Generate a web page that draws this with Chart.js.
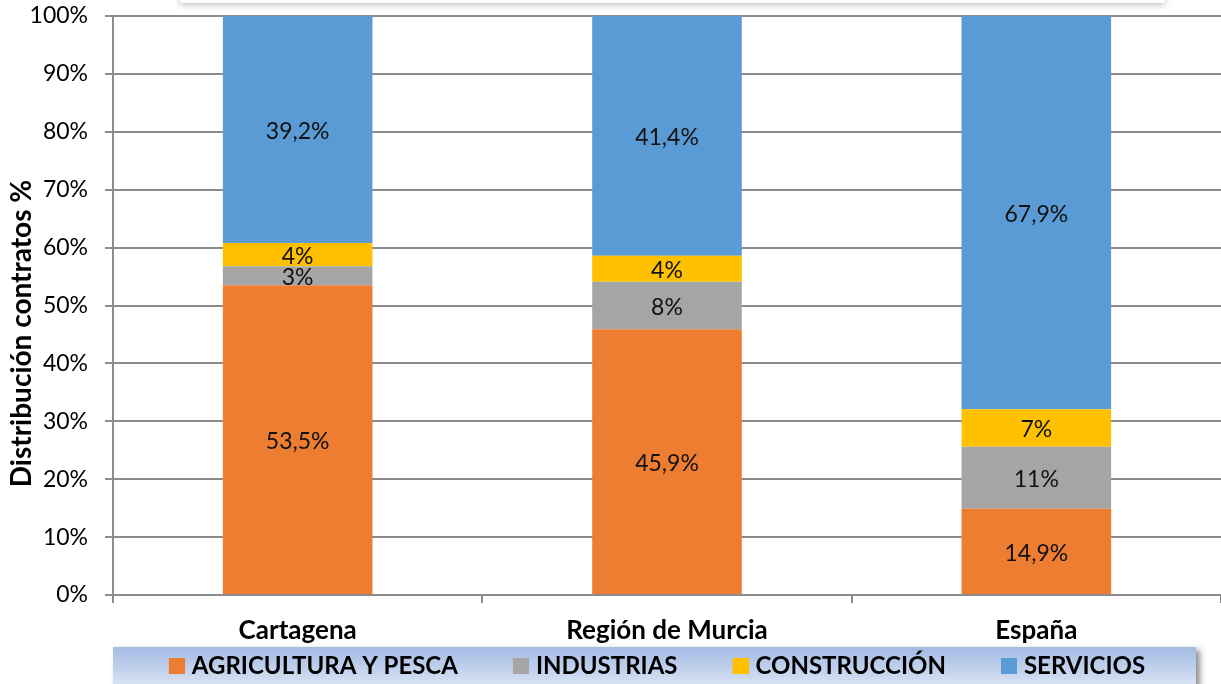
<!DOCTYPE html>
<html>
<head>
<meta charset="utf-8">
<script src="https://cdn.jsdelivr.net/npm/chart.js@4/dist/chart.umd.min.js"></script>
<style>
  html, body { margin: 0; padding: 0; background: #fff; overflow: hidden; }
  #wrap { position: relative; width: 1221px; height: 684px; }
  #titleBox {
    position: absolute; left: 180px; top: -40px; width: 985px; height: 43px;
    background: #fff; box-shadow: 0 2px 6px rgba(0,0,0,0.25); border-radius: 3px;
  }
  canvas { position: absolute; left: 0; top: 0; }
</style>
</head>
<body>
<div id="wrap">
  <canvas id="chart" width="1221" height="684"></canvas>
  <div id="titleBox"></div>
</div>
<script>
// datos
var categorias = ['Cartagena', 'Región de Murcia', 'España'];
var agricultura = [53.5, 45.9, 14.9];
var industrias = [3.3, 8.2, 10.7];
var construccion = [4.0, 4.5, 6.5];
var servicios = [39.2, 41.4, 67.9];

var etiqAgricultura = ['53,5%', '45,9%', '14,9%'];
var etiqIndustrias = ['3%', '8%', '11%'];
var etiqConstruccion = ['4%', '4%', '7%'];
var etiqServicios = ['39,2%', '41,4%', '67,9%'];

var FONT = 'Lato';
var gridColor = '#8c8c8c';
var LEG_BOX = 61;   // ancho reservado para el cuadrado de la leyenda

// cuadrado de la leyenda con hueco transparente a la izquierda
function legendSquare(color) {
  var c = document.createElement('canvas');
  c.width = LEG_BOX + 10;
  c.height = 16;
  var g = c.getContext('2d');
  g.fillStyle = color;
  g.fillRect(c.width - 16, 0, 16, 16);
  return c;
}

// etiquetas dentro de las barras
var barLabels = {
  id: 'barLabels',
  afterDatasetsDraw: function (chart) {
    var ctx = chart.ctx;
    ctx.save();
    ctx.font = '23px ' + FONT;
    ctx.fillStyle = '#111';
    ctx.textAlign = 'center';
    ctx.textBaseline = 'middle';
    chart.data.datasets.forEach(function (ds, i) {
      var meta = chart.getDatasetMeta(i);
      meta.data.forEach(function (bar, j) {
        var y = (bar.y + bar.base) / 2;
        ctx.fillText(ds.etiquetas[j], bar.x, y + 2);
      });
    });
    ctx.restore();
  }
};

// fondo degradado de la leyenda
var legendBg = {
  id: 'legendBg',
  afterLayout: function (chart) {
    chart.legend.left = 67;
    chart.legend.right = 1197;
    chart.legend.top += 4;
    chart.legend.bottom += 4;
  },
  beforeDraw: function (chart) {
    var ctx = chart.ctx;
    var top = 647, left = 113, right = 1196, bottom = chart.height;
    ctx.save();
    ctx.shadowColor = 'rgba(0,0,0,0.45)';
    ctx.shadowBlur = 6;
    ctx.shadowOffsetX = 4;
    ctx.shadowOffsetY = 3;
    var g = ctx.createLinearGradient(0, top, 0, bottom);
    g.addColorStop(0, '#a3bbe3');
    g.addColorStop(1, '#d6e1f3');
    ctx.fillStyle = g;
    ctx.fillRect(left, top, right - left, bottom - top + 10);
    ctx.restore();
  }
};

function makeSet(label, data, color, etiquetas) {
  return {
    label: label,
    data: data,
    backgroundColor: color,
    borderWidth: 0,
    pointStyle: legendSquare(color),
    etiquetas: etiquetas,
    barPercentage: 0.405,
    categoryPercentage: 1
  };
}

var ctx = document.getElementById('chart').getContext('2d');
var chart = new Chart(ctx, {
  type: 'bar',
  data: {
    labels: categorias,
    datasets: [
      makeSet('AGRICULTURA Y PESCA', agricultura, '#ED7D31', etiqAgricultura),
      makeSet('INDUSTRIAS', industrias, '#A5A5A5', etiqIndustrias),
      makeSet('CONSTRUCCIÓN', construccion, '#FFC000', etiqConstruccion),
      makeSet('SERVICIOS', servicios, '#5B9BD5', etiqServicios)
    ]
  },
  options: {
    responsive: false,
    animation: false,
    layout: { padding: { top: 16, right: 0, left: 0, bottom: 0 } },
    plugins: {
      tooltip: { enabled: false },
      legend: {
        position: 'bottom',
        labels: {
          font: { family: FONT, size: 24, weight: 'bold' },
          color: '#000',
          usePointStyle: true,
          pointStyleWidth: LEG_BOX,
          boxHeight: 16,
          padding: 5
        }
      }
    },
    scales: {
      x: {
        stacked: true,
        grid: {
          offset: true,
          drawOnChartArea: false,
          drawTicks: true,
          tickLength: 8,
          color: gridColor,
          lineWidth: 2
        },
        border: { color: gridColor, width: 2 },
        ticks: {
          font: { family: FONT, size: 26, weight: 'bold' },
          color: '#000',
          padding: 12
        },
        afterFit: function (scale) {
          scale.height = 50;
          scale.paddingLeft = 0;
          scale.paddingRight = 0;
        }
      },
      y: {
        stacked: true,
        min: 0,
        max: 100,
        ticks: {
          stepSize: 10,
          font: { family: FONT, size: 23 },
          color: '#000',
          padding: 17,
          callback: function (v) { return v + '%'; }
        },
        grid: { color: gridColor, lineWidth: 2, tickLength: 8 },
        border: { color: gridColor, width: 2 },
        title: {
          display: true,
          text: 'Distribución contratos %\u2002\u2002\u2002\u2002',
          font: { family: FONT, size: 28, weight: 'bold' },
          color: '#000',
          padding: { top: 5, bottom: 0 }
        },
        afterFit: function (scale) {
          scale.width = 113;
          scale.paddingTop = 0;
          scale.paddingBottom = 0;
        }
      }
    }
  },
  plugins: [legendBg, barLabels]
});
</script>
</body>
</html>
